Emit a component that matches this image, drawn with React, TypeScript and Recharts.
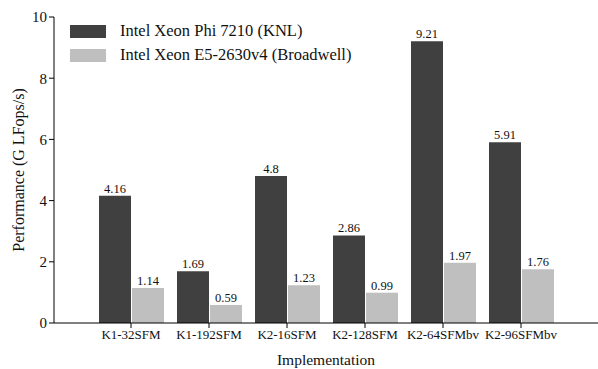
import { BarChart, Bar, XAxis, YAxis, LabelList, Label } from "recharts";

const categories = ["K1-32SFM", "K1-192SFM", "K2-16SFM", "K2-128SFM", "K2-64SFMbv", "K2-96SFMbv"];
const knl = [4.16, 1.69, 4.8, 2.86, 9.21, 5.91];
const broadwell = [1.14, 0.59, 1.23, 0.99, 1.97, 1.76];
const yTicks = [0, 2, 4, 6, 8, 10];

const seriesNames = ["Intel Xeon Phi 7210 (KNL)", "Intel Xeon E5-2630v4 (Broadwell)"];
const colors = ["#404040", "#bfbfbf"];

const data = categories.map((name, i) => ({ name, knl: knl[i], broadwell: broadwell[i] }));

const font = "Liberation Serif, Times, serif";

function LegendBox() {
    return (
        <div style={{ position: "absolute", left: 70, top: 19, fontFamily: font, fontSize: 16.5, color: "#111" }}>
            {seriesNames.map((n, i) => (
                <div key={n} style={{ display: "flex", alignItems: "center", height: 24 }}>
                    <div style={{ width: 36, height: 13, background: colors[i], marginRight: 14 }} />
                    <span>{n}</span>
                </div>
            ))}
        </div>
    );
}

export default function App() {
    return (
        <div style={{ position: "absolute", left: 0, top: 0, width: 598, height: 369, background: "#fff" }}>
            <BarChart
                width={598}
                height={369}
                data={data}
                margin={{ top: 17, right: 0, bottom: 0, left: 0 }}
                barGap={1}
                barSize={32}
            >
                <XAxis
                    dataKey="name"
                    padding={{ left: 38, right: 38 }}
                    height={46}
                    stroke="#000"
                    tickSize={5}
                    tick={{ fill: "#111", fontSize: 13, fontFamily: font }}
                    interval={0}
                >
                    <Label value="Implementation" position="insideBottom" offset={4} style={{ fill: "#111", fontSize: 15.5, fontFamily: font }} />
                </XAxis>
                <YAxis
                    domain={[0, 10]}
                    ticks={yTicks}
                    width={54}
                    stroke="#000"
                    tickSize={5}
                    tick={{ fill: "#111", fontSize: 15, fontFamily: font }}
                >
                    <Label
                        value="Performance (G LFops/s)"
                        angle={-90}
                        position="insideLeft"
                        offset={18}
                        style={{ textAnchor: "middle", fill: "#111", fontSize: 16, fontFamily: font }}
                    />
                </YAxis>
                <Bar dataKey="knl" fill={colors[0]} isAnimationActive={false}>
                    <LabelList dataKey="knl" position="top" offset={3} style={{ fill: "#111", fontSize: 12.5, fontFamily: font }} />
                </Bar>
                <Bar dataKey="broadwell" fill={colors[1]} isAnimationActive={false}>
                    <LabelList dataKey="broadwell" position="top" offset={3} style={{ fill: "#111", fontSize: 12.5, fontFamily: font }} />
                </Bar>
            </BarChart>
            <LegendBox />
        </div>
    );
}
